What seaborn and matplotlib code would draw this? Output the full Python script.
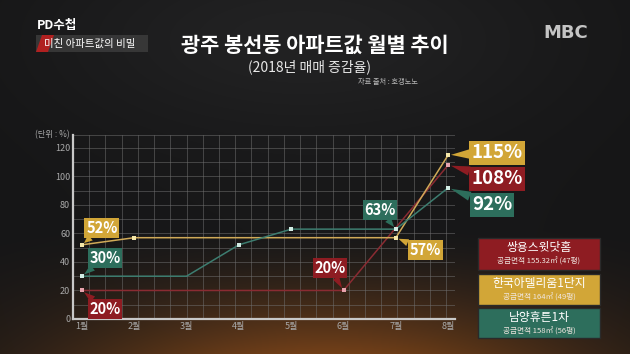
import numpy as np
import pandas as pd
import matplotlib
matplotlib.use("Agg")
import matplotlib.pyplot as plt
from matplotlib.patches import Rectangle, Polygon
import seaborn as sns

# ---------------- data ----------------
months = ["1월", "2월", "3월", "4월", "5월", "6월", "7월", "8월"]
series_names = ["쌍용스윗닷홈", "한국아델리움1단지", "남양휴튼1차"]
series_sub = ["공급면적 155.32㎡ (47평)", "공급면적 164㎡ (49평)", "공급면적 158㎡ (56평)"]
red_vals = [20, 20, 20, 20, 20, 20, 64, 108]
yellow_vals = [52, 57, 57, 57, 57, 57, 57, 115]
green_vals = [30, 30, 30, 52, 63, 63, 63, 92]
red_marked = [0, 5, 7]
yellow_marked = [0, 1, 6, 7]
green_marked = [0, 3, 4, 6, 7]
yticks = [0, 20, 40, 60, 80, 100, 120]
# labels: (text, series index, month index)
point_labels = [("52%", 1, 0), ("30%", 2, 0), ("20%", 0, 0), ("20%", 0, 5),
                ("63%", 2, 6), ("57%", 1, 6), ("115%", 1, 7), ("108%", 0, 7), ("92%", 2, 7)]

RED = "#8e1c22"
YEL = "#d2a637"
GRN = "#2d6e5c"
line_cols = {series_names[0]: "#8a2b32", series_names[1]: "#d0aa58", series_names[2]: "#3d7d70"}
box_cols = [RED, YEL, GRN]
mk_cols = ["#e7a3ad", "#f4e6a8", "#d2ece4"]

sns.set_theme(style="dark")
plt.rcParams["font.family"] = ["Noto Sans CJK KR", "DejaVu Sans"]

W, H = 630, 354
fig = plt.figure(figsize=(W / 100, H / 100), dpi=100)

# background gradient
bg = fig.add_axes([0, 0, 1, 1], zorder=-10)
yy, xx = np.mgrid[0:H, 0:W]
base = np.array([24, 24, 25], float)
brown = np.array([115, 64, 24], float)
t = np.clip((yy - 230) / 124.0, 0, 1) ** 1.5
hf = np.exp(-((xx - 330) / 270.0) ** 2)
top_glow = np.exp(-((yy - 40) / 90.0) ** 2) * np.exp(-((xx - 300) / 250.0) ** 2) * 10
img = base[None, None, :] + (t * hf)[..., None] * (brown - base)[None, None, :] + top_glow[..., None]
vign = np.exp(-((xx - 315) / 520.0) ** 2)
img = img * (0.75 + 0.25 * vign)[..., None]
bg.imshow(np.clip(img, 0, 255).astype(np.uint8), aspect="auto", extent=[0, W, H, 0])
bg.set_axis_off()

# chart axes
x0, x1 = 73, 455
ytop, ybot = 135, 319
ax = fig.add_axes([x0 / W, 1 - ybot / H, (x1 - x0) / W, (ybot - ytop) / H])
ax.set_facecolor("none")
ax.patch.set_alpha(0)

xpos = np.arange(len(months))
df = pd.DataFrame({
    "x": np.concatenate([xpos] * 3),
    "v": red_vals + yellow_vals + green_vals,
    "s": [series_names[0]] * 8 + [series_names[1]] * 8 + [series_names[2]] * 8,
})

xmin, xmax = -0.17, 7.13
ax.set_xlim(xmin, xmax)
ax.set_ylim(0, 129)

# grid
for gx in np.arange(xmin + 0.31, xmax + 0.01, 0.31):
    ax.axvline(gx, color="#707070", lw=0.6, alpha=0.6, zorder=0)
for gy in np.arange(10, 130, 10):
    ax.axhline(gy, color="#707070", lw=0.6, alpha=0.6, zorder=0)
ax.axhline(129, color="#707070", lw=0.6, alpha=0.6, zorder=0)
ax.grid(False)

sns.lineplot(data=df, x="x", y="v", hue="s", palette=line_cols, legend=False,
             ax=ax, linewidth=1.1, zorder=3)

vals = [red_vals, yellow_vals, green_vals]
marks = [red_marked, yellow_marked, green_marked]
for i in range(3):
    ax.scatter([xpos[m] for m in marks[i]], [vals[i][m] for m in marks[i]],
               s=9, marker="s", color=mk_cols[i], zorder=5, linewidths=0)

for sp in ["top", "right"]:
    ax.spines[sp].set_visible(False)
for sp in ["left", "bottom"]:
    ax.spines[sp].set_visible(True)
    ax.spines[sp].set_color("#c8c8c8")
    ax.spines[sp].set_linewidth(1.6)

ax.set_xticks(xpos)
ax.set_xticklabels(months)
ax.set_yticks(yticks)
ax.set_yticklabels([str(v) for v in yticks])
ax.tick_params(axis="both", colors="#a8a8a8", labelsize=6.5, length=0, pad=2)
ax.set_xlabel("")
ax.set_ylabel("")
ax.text(-0.01, 1.0, "(단위 : %)", transform=ax.transAxes, ha="right", va="center",
        color="#a8a8a8", fontsize=6)

# value labels (positions in pixel -> data)
def px2d(px, py):
    return (px - 82) / 52.3, (319 - py) / 28.5 * 20

label_px = [(102, 228), (105, 258), (105, 309), (330, 268), (380, 210),
            (425, 250), (497, 153), (497, 179), (492, 205)]
label_fs = [10.5, 10.5, 10.5, 10.5, 10.5, 10.5, 13.5, 13.5, 13.5]
for (txt, si, mi), (px, py), fs in zip(point_labels, label_px, label_fs):
    tx, ty = px2d(px, py)
    ax.annotate(txt, xy=(xpos[mi], vals[si][mi]), xytext=(tx, ty),
                ha="center", va="center", color="white", fontsize=fs, fontweight="bold",
                bbox=dict(boxstyle="square,pad=0.12", fc=box_cols[si], ec="none"),
                arrowprops=dict(arrowstyle="wedge,tail_width=0.5,shrink_factor=0.5",
                                fc=box_cols[si], ec="none", shrinkA=0, shrinkB=2),
                annotation_clip=False, zorder=6)

# legend boxes on right
boxes = [(238, 270), (274, 305), (308, 338)]
for i, (yt, yb) in enumerate(boxes):
    fig.patches.append(Rectangle((478 / W, 1 - yb / H), (600 - 478) / W, (yb - yt) / H,
                                 transform=fig.transFigure, fc=box_cols[i],
                                 ec="#2a2a2a", lw=1.0, zorder=2))
    fig.text(539 / W, 1 - (yt + 10) / H, series_names[i], ha="center", va="center",
             color="white", fontsize=8.5, zorder=3)
    fig.text(539 / W, 1 - (yt + 23) / H, series_sub[i], ha="center", va="center",
             color="#f0e6e0", fontsize=5.5, zorder=3)

# titles
fig.text(315 / W, 1 - 45 / H, "광주 봉선동 아파트값 월별 추이", ha="center", va="center",
         color="white", fontsize=15, fontweight="bold")
fig.text(310 / W, 1 - 67 / H, "(2018년 매매 증감율)", ha="center", va="center",
         color="#e8e8e8", fontsize=10)
fig.text(388 / W, 1 - 82 / H, "자료 출처 : 호갱노노", ha="center", va="center",
         color="#b8b8b8", fontsize=5.2)

# program logo top-left
fig.text(37 / W, 1 - 26 / H, "PD수첩", ha="left", va="center", color="white",
         fontsize=9, fontweight="bold")
fig.patches.append(Rectangle((36 / W, 1 - 52 / H), (148 - 36) / W, 17 / H,
                             transform=fig.transFigure, fc="#3a3a3a", ec="none", alpha=0.9))
fig.patches.append(Polygon([(36 / W, 1 - 52 / H), (48 / W, 1 - 52 / H), (54 / W, 1 - 35 / H),
                            (42 / W, 1 - 35 / H)], closed=True, transform=fig.transFigure,
                           fc="#b02020", ec="none"))
fig.text(44 / W, 1 - 43.5 / H, "미친 아파트값의 비밀", ha="left", va="center",
         color="white", fontsize=7.5)

# broadcaster logo
fig.text(566 / W, 1 - 33 / H, "MBC", ha="center", va="center", color="#c4c4c4",
         fontsize=13, fontweight="heavy", family=["DejaVu Sans"])

fig.savefig("out.png", dpi=100)
